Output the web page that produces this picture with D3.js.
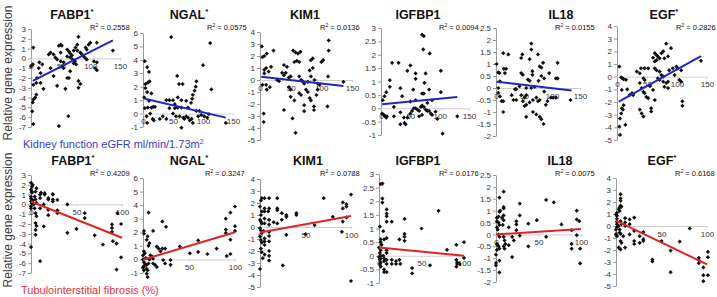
<!DOCTYPE html>
<html>
<head>
<meta charset="utf-8">
<script src="https://cdn.jsdelivr.net/npm/d3@7"></script>
<style>
  body { margin: 0; background: #fff; }
  svg { display: block; }
  text { font-family: "Liberation Sans", Arial, sans-serif; }
</style>
</head>
<body>
<svg id="chart" width="717" height="297"></svg>
<script>
// ---- data -------------------------------------------------------------
const genes = ["FABP1", "NGAL", "KIM1", "IGFBP1", "IL18", "EGF"]
const starTop = [true, true, false, false, false, true]
const starBottom = [true, true, false, false, false, true]
const r2Top = ["0.2558", "0.0575", "0.0136", "0.0094", "0.0155", "0.2826"]
const r2Bottom = ["0.4209", "0.3247", "0.0788", "0.0176", "0.0075", "0.6168"]
const yDomains = [[-7, 3], [-1, 6], [-5, 4], [-1, 3], [-2, 2.5], [-5, 4]]
const yStep = [1, 1, 1, 0.5, 0.5, 1]
const xTicksTop = [0, 50, 100, 150]
const xTicksBottom = [0, 50, 100]
const xLabelTop = "Kidney function eGFR ml/min/1.73m"
const xLabelBottom = "Tubulointerstitial fibrosis (%)"
const yLabel = "Relative gene expression"

// eGFR vs expression  [eGFR, expression]
const topFABP1 = [[4,1.1],[0,-0.8],[3,-0.6],[14,-0.4],[13,-1],[16,-1.5],[10,-2],[9,-2.5],[4,-2.7],[16,-2.5],[21,-3.1],[7,-4],[4,-4.2],[3,-4.5],[9,-3.7],[2,-5.4],[4,-6.7],[47,-6.9],[63,-5.9],[44,-2.8],[58,-3.1],[61,-2],[64,-2],[80,-2.3],[83,-2.6],[80,-3],[66,-1.3],[38,-1.8],[33,-1],[30,0.4],[33,0.6],[38,0.4],[41,0.1],[44,-0.1],[47,1.3],[50,1.4],[52,1.3],[50,0.6],[61,0.9],[64,0.7],[66,0.5],[61,0.2],[66,0.1],[69,0.3],[72,0.8],[75,1.1],[78,0.8],[80,2.2],[78,1.4],[83,0.6],[86,0.4],[89,0.2],[92,0],[94,-0.1],[97,1.4],[100,1.6],[111,1.6],[106,-0.3],[111,-0.4],[108,-1],[111,-1.2],[138,0.8],[70,-0.1],[74,-0.3],[72,-0.5],[76,-0.6],[52,-0.8],[55,-1],[19,-0.6],[50,-0.3],[55,-0.4],[92,1.1],[94,0.9]]
const topNGAL = [[3,3.9],[7,3.45],[10,3.1],[11,2.4],[4,2.2],[8,2.3],[4,1.9],[7,1.6],[14,1.5],[2,1.2],[10,0.95],[14,0.45],[17,0.5],[20,0.5],[8,0.45],[3,0.4],[6,-0.2],[12,0],[16,-0.4],[7,-0.7],[18,-0.5],[47,5.7],[57,2.8],[60,2.2],[66,2.2],[39,1],[44,1],[50,1],[53,0.7],[44,0.4],[53,0.4],[33,-0.2],[39,-0.4],[50,0],[55,-0.2],[58,0.45],[64,0.45],[61,-0.2],[67,-0.3],[69,-0.4],[72,-0.2],[75,-0.3],[78,-0.5],[81,-0.4],[83,-0.7],[89,2.4],[88,2],[86,1.7],[83,1.4],[82,1.1],[80,0.8],[58,1.2],[64,1],[72,0.95],[97,-0.1],[102,-0.2],[107,-0.3],[100,3.6],[110,-0.05],[112,5.25],[114,1.8],[89,0.2],[94,0.2],[138,-0.7],[64,-1.05],[28,-0.4],[92,-0.2],[75,0.45]]
const topKIM1 = [[3,2.8],[4,1.9],[7,2],[11,2.2],[22,2.45],[7,0.85],[10,1],[14,0.7],[18,1.1],[7,0.55],[4,-0.4],[10,-0.4],[16,-0.6],[11,-0.8],[6,-2.8],[6,-3.5],[36,0.6],[39,0.4],[42,0.6],[39,1.25],[44,1.1],[47,0.2],[50,0.3],[54,2.45],[58,2.3],[62,2.2],[66,2.35],[56,1.5],[60,1.6],[64,1.5],[47,-0.6],[50,-0.8],[50,-1.4],[56,-1.7],[53,-3.2],[58,-4.4],[39,-2.5],[64,0.3],[67,0],[69,-0.1],[72,-0.3],[64,-1.1],[67,-1.25],[72,-2.1],[72,-2.6],[75,-0.8],[78,-1],[81,-1.5],[83,-1.7],[83,1.65],[86,1.8],[81,0.8],[86,1],[88,-2.2],[88,-2.5],[83,0.3],[89,0],[94,-0.3],[97,-0.4],[100,1.5],[103,1.65],[112,3.3],[112,2.45],[110,-2.2],[111,0.3],[136,-0.15],[94,-0.8],[28,0],[31,-0.1],[78,-0.15],[92,-1.25]]
const topIGFBP1 = [[70,2.75],[73,2.7],[72,2.2],[83,2.05],[19,1.7],[30,1.7],[50,1.6],[45,1.4],[102,1.4],[59,1.1],[59,1.3],[76,1.3],[15,1.05],[33,0.75],[15,0.8],[9,0.6],[6,0.45],[3,0.3],[55,0.7],[70,0.55],[73,0.55],[82,0.7],[74,0.95],[102,0.6],[36,0.45],[2,-0.2],[5,-0.25],[7,-0.3],[9,-0.35],[10,-0.3],[22,-0.3],[33,-0.15],[39,-0.35],[45,-0.35],[33,-0.6],[42,-0.6],[40,-0.55],[50,-0.2],[53,-0.1],[56,0],[59,0],[62,-0.05],[65,-0.1],[68,0.05],[70,0.1],[73,0.05],[76,-0.05],[79,-0.1],[82,-0.1],[65,-0.3],[70,-0.25],[85,-0.2],[87,-0.25],[93,-0.13],[96,-0.4],[105,-0.95],[130,-0.3],[59,0.3],[50,0.25],[79,0.2],[87,0.3],[22,0.05]]
const topIL18 = [[63,1.85],[63,1.6],[13,1.45],[22,1.4],[45,1.25],[47,1.4],[75,1.4],[60,1.2],[78,0.9],[81,0.85],[84,1.05],[110,1.05],[1,1],[14,0.8],[18,0.8],[4,0.65],[6,0.62],[16,0.62],[48,0.55],[45,0.62],[65,0.7],[65,0.55],[95,0.62],[76,0.3],[81,0.5],[86,0.4],[57,0.35],[60,0.3],[107,0.4],[110,0.4],[7,0.28],[4,0],[4,-0.2],[7,-0.35],[34,-0.05],[36,-0.05],[42,0.07],[54,0],[63,0],[69,0.05],[10,-0.55],[13,-0.55],[13,-1],[31,-0.5],[36,-0.5],[45,-0.3],[51,-0.4],[54,-0.3],[48,-0.55],[51,-0.75],[54,-0.7],[60,-0.6],[66,-0.5],[72,-0.4],[75,-0.55],[78,-0.5],[66,-1],[72,-1.1],[78,-1.2],[81,-1.3],[85,-1.5],[54,-1.2],[89,-0.7],[92,-0.55],[98,-0.4],[102,-0.4],[107,-0.4],[133,-0.5],[86,-0.15],[28,-0.3]]
const topEGF = [[4,0.8],[7,-0.05],[9,-0.13],[11,-0.2],[15,-0.25],[17,-1],[21,-1.45],[8,-1.05],[8,-2.5],[10,-2.6],[7,-2.9],[5,-3.3],[4,-3.95],[5,-4.6],[14,-3.8],[11,-2.25],[25,-1.3],[27,-1.45],[33,0.4],[38,0.26],[40,0.66],[46,0.66],[52,0.66],[44,-0.13],[46,-0.26],[38,-0.5],[41,-0.9],[44,-1.2],[46,-1.3],[49,-1.6],[52,-1.7],[38,-2.6],[41,-2.9],[44,-3.15],[57,-2.5],[57,-2.75],[55,-0.75],[60,-1.05],[63,-1.85],[60,1.5],[63,1.85],[66,1.7],[63,1.2],[66,1.3],[68,1.6],[71,1.45],[74,1.85],[77,2],[82,2.6],[90,2.25],[79,1.45],[85,1.6],[63,0.66],[66,0.5],[71,0.4],[74,0.13],[77,0],[77,-0.4],[82,-0.5],[85,-0.4],[79,-0.8],[85,-0.9],[68,-0.13],[71,-0.26],[87,0.5],[93,0.66],[96,0.13],[99,0.8],[101,0.66],[104,-0.26],[107,0.5],[109,-1.95],[109,-2.3],[107,-0.4],[140,1.25]]

// fibrosis % vs expression  [fibrosis, expression]
const botFABP1 = [[0,2.2],[0,1.5],[1,1.3],[1,1.2],[0,0.8],[0,0.6],[1,0.5],[0,0.3],[1,0.1],[2,0.4],[0,-0.2],[0,-0.4],[4,0.8],[5,1.3],[6,1.65],[5,0.5],[6,0.15],[5,-0.9],[6,-1.2],[5,-1.9],[6,-2.2],[5,-2.6],[5,-3.1],[10,-0.4],[10,0.65],[10,1],[11,1.2],[10,-5.8],[14,-2.25],[14,0],[15,1],[15,1.15],[19,0.5],[19,0.65],[19,-0.55],[19,-1.1],[24,1],[24,1.05],[24,0.3],[24,0.5],[29,0.45],[29,-0.6],[29,-0.9],[40,0],[40,-2.9],[50,-2.5],[59,-0.9],[59,-1.4],[70,-3.15],[79,-4.1],[89,-2.05],[89,-2.4],[89,-2.8],[90,-3.75],[95,-0.9],[94,-4],[94,-6.65],[99,-2],[99,-5.4],[0,-4.35],[1,1.8],[2,2],[3,0],[4,-0.4]]
const botNGAL = [[6,3.45],[1,1.9],[1,2.1],[4,1.45],[5,1.7],[6,1],[7,1.2],[11,2.1],[0,0.3],[2,0.45],[1,0.6],[0,0],[1,-0.2],[2,-0.3],[4,-0.4],[1,-0.5],[0,-0.6],[4,-0.7],[1,-0.8],[3,0.1],[6,-0.3],[7,0],[8,0.3],[10,0.2],[11,0.05],[11,-0.3],[15,0.95],[17,0.8],[19,0.6],[13,-0.4],[15,-0.55],[21,2.8],[25,2.4],[22,-0.05],[24,-0.3],[21,0.8],[24,0.8],[30,-0.05],[30,-0.4],[40,0.95],[51,0.45],[60,0.55],[60,1.4],[70,0.4],[80,0.8],[90,3],[90,1.95],[90,2.2],[91,0.25],[95,0.4],[95,1.45],[95,3.45],[100,3.9],[100,2.1],[100,2.45],[5,-1.3],[4,-1.05],[5,-0.8]]
const botKIM1 = [[1,2.2],[2,2.4],[0,1.7],[1,1],[2,1.3],[0,0.6],[1,0.45],[2,0.3],[0,-0.1],[1,-0.3],[2,-0.5],[0,-0.8],[1,-1.1],[2,-1.3],[1,-1.8],[2,-2.1],[0,-3.5],[3,-2.6],[4,-0.35],[5,2.4],[5,1.3],[5,1.55],[5,0.3],[5,0.7],[5,-0.95],[5,-1.2],[5,-1.5],[5,-2.3],[10,2.4],[9,1.3],[10,1.55],[10,0.2],[10,0.6],[10,-0.4],[10,-0.75],[10,-1.2],[10,-2],[10,-2.4],[10,-2.8],[15,0.4],[19,2.4],[19,1.4],[19,1.55],[19,0.3],[24,0.6],[24,1.15],[29,0.85],[29,1],[29,-0.65],[25,-3.2],[40,1],[40,1.15],[50,-0.6],[60,0.15],[70,2.4],[80,0.85],[91,1.55],[91,2.05],[91,0.45],[90,-0.4],[95,1.7],[95,1.9],[95,0.8],[100,2.7],[100,-4.5]]
const botIGFBP1 = [[2,2.63],[4,2.65],[4,1.95],[4,2.1],[1,1.07],[2,0.5],[2,0.6],[3,0.4],[0,0.3],[2,0.2],[1,0.1],[2,0],[0,-0.05],[2,-0.1],[1,-0.15],[2,-0.25],[1,-0.3],[2,-0.4],[5,0.9],[6,0.6],[5,0],[6,-0.1],[6,-0.2],[6,-0.5],[6,-0.6],[9,1.25],[9,1.45],[9,1.55],[9,1.7],[9,0.65],[9,0.2],[9,0.1],[9,-0.15],[9,-0.3],[9,-0.6],[15,1.25],[15,-0.15],[15,-0.3],[20,-0.2],[20,-0.3],[24,0.6],[24,-0.15],[25,-0.3],[30,1.35],[30,0.7],[30,0.8],[30,0.55],[39,-0.45],[39,-0.65],[50,1],[60,-0.35],[70,1.65],[80,0.22],[91,0.4],[91,-0.15],[92,-0.25],[92,-0.3],[91,-0.4],[100,0.5],[100,-0.08],[95,-0.3]]
const botIL18 = [[9,1.8],[4,1.55],[9,1.1],[9,1.15],[4,0.95],[5,1],[1,0.7],[3,0.75],[1,0.55],[3,0.5],[4,0.4],[1,0.3],[2,0.2],[7,0.7],[8,0.4],[9,0.6],[9,0.8],[15,0.3],[3,0],[4,-0.1],[1,-0.4],[2,-0.45],[3,-0.5],[4,-0.6],[1,-0.65],[0,-0.85],[0,-1.2],[0,-1.3],[4,-1.1],[4,-1.6],[9,-0.1],[10,-0.25],[11,-0.4],[9,-0.5],[10,-0.6],[15,-0.45],[19,-0.1],[21,-0.25],[24,0.42],[24,0.55],[24,0.18],[19,-0.95],[28,0.8],[28,1.3],[28,-0.05],[38,0.45],[38,-0.5],[48,0.6],[59,1.45],[59,-0.1],[68,1.35],[77,0.42],[89,0.18],[89,-0.4],[89,-0.6],[95,1],[95,0.63],[95,-0.03],[98,0.56],[99,-0.6],[99,-1.22]]
const botEGF = [[5,2.65],[5,2.1],[5,2.3],[1,1.1],[0,0.95],[1,0.85],[1,0.6],[1,0.35],[3,1.4],[4,1.55],[5,1.7],[6,1.6],[4,1.25],[1,0.15],[1,-0.1],[0,-0.3],[0,-0.7],[1,-0.85],[3,0],[4,-0.3],[4,-0.55],[5,0.4],[6,0.15],[3,-1.8],[5,-1.95],[5,-0.65],[5,-1.25],[6,-1.4],[8,-0.85],[10,0.65],[10,0.3],[10,0],[10,-1.8],[15,0.15],[15,-0.7],[15,0.55],[20,0.7],[20,-0.4],[20,-1.25],[20,-1.5],[26,-0.85],[26,-1.4],[30,-0.5],[30,-1.1],[30,-1.25],[40,-2.8],[40,-2.95],[50,-1.25],[60,-2.05],[60,-3.85],[70,-1.3],[81,-0.2],[91,-2.65],[91,-2.85],[91,-3.1],[96,-3.45],[96,-4.1],[96,-4.6],[101,-2.15],[101,-2.6],[101,-4.1]]

// linear trend lines (start and end point)
const fitTop = [[[3,-2.3],[138,1.85]], [[3,1.1],[138,-0.3]], [[2,0.28],[136,-0.5]], [[2,0.15],[130,0.42]], [[1,0.26],[135,-0.1]], [[3,-1.97],[140,1.63]]]
const fitBottom = [[[0,0.3],[100,-3.4]], [[0,-0.02],[100,2.0]], [[0,-0.45],[100,0.92]], [[0,0.3],[100,0.0]], [[0,0.0],[100,0.23]], [[0,0.45],[100,-3.2]]]

const pointsTop = [topFABP1, topNGAL, topKIM1, topIGFBP1, topIL18, topEGF]
const pointsBottom = [botFABP1, botNGAL, botKIM1, botIGFBP1, botIL18, botEGF]

// ---- layout (pixels) ----------------------------------------------------
// ax = x of y-axis, axEnd = x of last x tick, yt/yb = top/bottom of y-axis,
// tx = title centre, rx = start of R2 text
const layoutTop = [
  {ax:31,  axEnd:120, yt:29, yb:127, tx:72,  rx:90},
  {ax:143, axEnd:233, yt:33, yb:127, tx:189, rx:207},
  {ax:260, axEnd:352, yt:32, yb:140, tx:305, rx:320},
  {ax:381, axEnd:469, yt:28, yb:135, tx:418, rx:439},
  {ax:496, axEnd:580, yt:28, yb:136, tx:561, rx:555},
  {ax:617, axEnd:707, yt:26, yb:140, tx:664, rx:676}
]
const layoutBottom = [
  {ax:31,  axEnd:122, yt:175, yb:273, tx:73,  rx:90},
  {ax:143, axEnd:235, yt:178, yb:273, tx:189, rx:205},
  {ax:260, axEnd:351, yt:179, yb:287, tx:308, rx:320},
  {ax:379, axEnd:464, yt:174, yb:283, tx:418, rx:439},
  {ax:496, axEnd:581, yt:175, yb:282, tx:560, rx:555},
  {ax:616, axEnd:707, yt:178, yb:286, tx:662, rx:675}
]

const svg = d3.select("#chart")
const blueLine = "#2424c4"
const redLine = "#e32222"

function drawPanel(pts, fit, k, lay, xMax, xTicks, star, r2, lineColour, titleY, r2Y) {
  const x = d3.scaleLinear().domain([0, xMax]).range([lay.ax, lay.axEnd])
  const y = d3.scaleLinear().domain(yDomains[k]).range([lay.yb, lay.yt])
  const yTicks = d3.range(yDomains[k][0], yDomains[k][1] + 1e-9, yStep[k])

  // y axis
  const gy = svg.append("g")
    .attr("transform", "translate(" + lay.ax + ",0)")
    .call(d3.axisLeft(y).tickValues(yTicks).tickSize(3).tickSizeOuter(0)
      .tickFormat(d => String(+d.toFixed(1))))
  gy.select(".domain").attr("stroke", "#9a9a9a")
  gy.selectAll(".tick line").attr("stroke", "#9a9a9a")
  gy.selectAll(".tick text").attr("x", -5).attr("fill", "#333").style("font-size", "8px")

  // x axis at y = 0
  const gx = svg.append("g")
    .attr("transform", "translate(0," + y(0) + ")")
    .call(d3.axisBottom(x).tickValues(xTicks).tickSize(2).tickSizeOuter(0))
  gx.select(".domain").attr("stroke", "#cfcfcf")
  gx.selectAll(".tick line").attr("stroke", "#cfcfcf")
  gx.selectAll(".tick text").attr("y", 5).attr("fill", "#333").style("font-size", "8px")

  // points
  svg.append("g").selectAll("path")
    .data(pts)
    .join("path")
      .attr("d", d3.symbol(d3.symbolSquare, 9))
      .attr("transform", d => "translate(" + x(d[0]) + "," + y(d[1]) + ") rotate(45)")
      .attr("fill", "#111")

  // trend line
  svg.append("path")
    .attr("d", d3.line().x(d => x(d[0])).y(d => y(d[1]))(fit))
    .attr("stroke", lineColour)
    .attr("stroke-width", 2)
    .attr("fill", "none")

  // title
  const t = svg.append("text")
    .attr("x", lay.tx).attr("y", titleY)
    .attr("text-anchor", "middle")
    .style("font-size", "12.5px").style("font-weight", "bold").attr("fill", "#111")
  t.append("tspan").text(genes[k])
  if (star) t.append("tspan").attr("dy", -5).style("font-size", "8px").text("*")

  // R2
  const r = svg.append("text")
    .attr("x", lay.rx).attr("y", r2Y)
    .style("font-size", "7.5px").attr("fill", "#111")
  r.append("tspan").text("R")
  r.append("tspan").attr("dy", -3).style("font-size", "5px").text("2")
  r.append("tspan").attr("dy", 3).text(" = " + r2)
}

for (let k = 0; k < genes.length; k++) {
  drawPanel(pointsTop[k], fitTop[k], k, layoutTop[k], 150, xTicksTop, starTop[k], r2Top[k], blueLine, 19, 30)
  drawPanel(pointsBottom[k], fitBottom[k], k, layoutBottom[k], 100, xTicksBottom, starBottom[k], r2Bottom[k], redLine, 165, 176)
}

// axis titles
;[73, 220].forEach(cy => {
  svg.append("text")
    .attr("transform", "translate(12," + cy + ") rotate(-90)")
    .attr("text-anchor", "middle")
    .style("font-size", "12px").attr("fill", "#3a3a3a")
    .text(yLabel)
})

const lt = svg.append("text")
  .attr("x", 23).attr("y", 148)
  .style("font-size", "11px").attr("fill", "#3b3bc8")
lt.append("tspan").text(xLabelTop)
lt.append("tspan").attr("dy", -4).style("font-size", "7px").text("2")

svg.append("text")
  .attr("x", 21).attr("y", 294)
  .style("font-size", "11px").attr("fill", "#e2343c")
  .text(xLabelBottom)
</script>
</body>
</html>
